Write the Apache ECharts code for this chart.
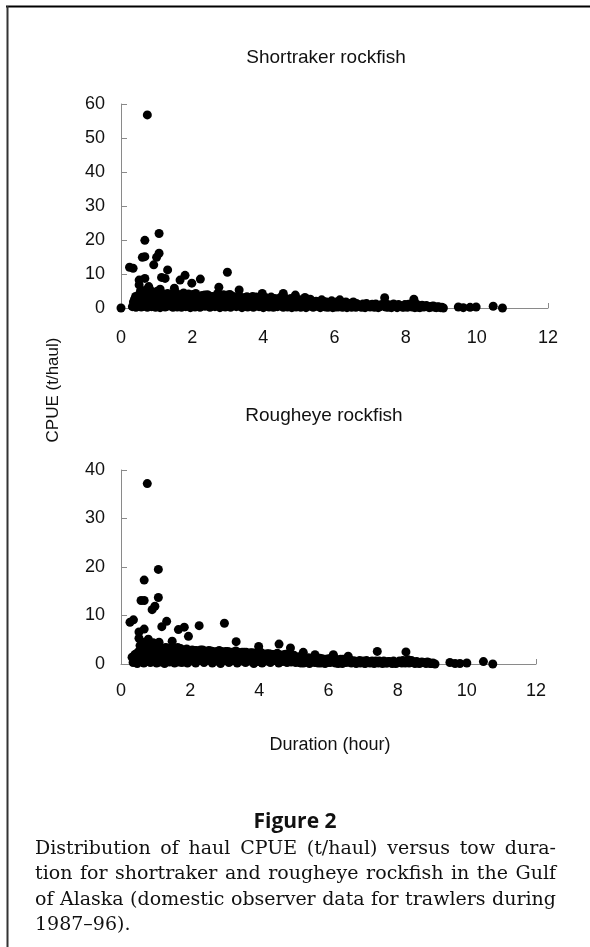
<!DOCTYPE html>
<html>
<head>
<meta charset="utf-8">
<script src="https://cdn.jsdelivr.net/npm/echarts@6/dist/echarts.min.js"></script>
<style>
html,body{margin:0;padding:0;background:#fff;}
#chart{width:590px;height:947px;}
</style>
</head>
<body>
<div id="chart"></div>
<script>
// ---- data (duration in hours, CPUE in t/haul) ----
var xTicks = [0, 2, 4, 6, 8, 10, 12];
var shortrakerTitle = "Shortraker rockfish";
var rougheyeTitle = "Rougheye rockfish";
var yAxisTitle = "CPUE (t/haul)";
var xAxisTitle = "Duration (hour)";
var figureLabel = "Figure 2";
var captionLines = [
  "Distribution of haul CPUE (t/haul) versus tow dura-",
  "tion for shortraker and rougheye rockfish in the Gulf",
  "of Alaska (domestic observer data for trawlers during",
  "1987\u201396)."
];

var shortrakerOutliers = [
  [0,0],[0.74,56.8],[1.07,21.9],[0.67,19.9],[1.07,16.1],[1.0,14.9],[0.6,14.9],[0.67,15.1],
  [0.24,12.0],[0.34,11.7],[0.92,12.7],[1.31,11.2],[1.14,9.0],[1.24,8.7],[0.51,8.2],[0.67,8.7],
  [1.8,9.6],[1.66,8.2],[2.23,8.5],[2.99,10.5],[1.99,7.3],[2.75,6.1],[0.51,6.8],[0.78,6.3],
  [3.32,5.3],[3.97,4.3],[4.56,4.3],[4.9,3.8],[1.5,5.8],[1.1,5.5],[5.17,3.1],[6.15,2.4],
  [6.53,1.8],[7.41,3.0],[8.23,2.6],[5.64,2.4],[9.06,0],[9.48,0.3],[9.62,0.1],[9.81,0.2],
  [9.98,0.3],[10.46,0.5],[10.72,0]
];
var shortrakerBulk = [
  [0.32,0.4],[0.35,1.8],[0.38,2.6],[0.42,0.2],[0.45,1.2],[0.47,2.9],[0.5,0.5],
  [0.52,2.0],[0.55,3.6],[0.55,5.1],[0.57,0.3],[0.6,1.4],[0.62,2.7],[0.63,4.4],[0.66,0.8],
  [0.68,3.3],[0.7,5.3],[0.72,1.9],[0.74,0.2],[0.76,4.1],[0.78,2.6],[0.8,1.1],[0.82,3.5],
  [0.85,5.0],[0.86,0.4],[0.88,2.2],[0.9,4.0],[0.92,1.3],[0.95,3.0],[0.97,0.2],[0.98,4.6],[1.0,2.1],
  [1.03,0.8],[1.05,3.6],[1.08,1.6],[1.1,0.1],[1.12,2.9],[1.15,4.2],[1.18,1.0],[1.2,2.4],
  [1.24,0.3],[1.26,3.7],[1.3,1.7],[1.33,0.6],[1.36,2.8],[1.4,4.0],[1.42,1.2],[1.46,0.2],
  [1.48,2.5],[1.52,3.6],[1.55,1.0],[1.58,0.3],[1.6,2.2],[1.63,3.9],[1.66,1.4],[1.7,0.2],
  [1.72,2.9],[1.76,4.4],[1.78,1.0],[1.82,0.4],[1.85,2.3],[1.88,3.4],[1.92,1.5],[1.95,0.1],[1.98,2.8],
  [2.02,4.0],[2.05,1.2],[2.08,0.3],[2.12,2.6],[2.15,3.5],[2.18,1.0],[2.22,0.2],[2.25,2.2],
  [2.28,3.7],[2.32,1.4],[2.36,0.5],[2.4,2.9],[2.43,3.9],[2.46,1.1],[2.5,0.2],[2.53,2.4],
  [2.57,3.4],[2.6,1.3],[2.64,0.4],[2.68,2.7],[2.71,4.2],[2.75,1.0],[2.78,0.1],[2.82,2.3],
  [2.86,3.3],[2.9,1.5],[2.93,0.3],[2.97,2.8],[3.0,3.8],[3.04,1.1],[3.08,0.2],[3.12,2.5],
  [3.16,3.4],[3.2,1.3],[3.24,0.4],[3.28,2.6],[3.32,3.6],[3.36,1.0],[3.4,0.1],[3.44,2.2],[3.48,3.1],
  [3.52,1.2],[3.56,0.3],[3.6,2.4],[3.64,3.0],[3.68,1.0],[3.72,0.2],[3.76,2.1],[3.8,3.2],
  [3.84,1.3],[3.88,0.4],[3.92,2.5],[3.96,1.0],[4.0,0.1],[4.04,2.2],[4.08,3.0],[4.12,1.1],
  [4.16,0.3],[4.2,2.4],[4.24,1.4],[4.28,0.2],[4.32,2.8],[4.36,1.0],[4.4,0.4],[4.44,2.2],
  [4.48,3.1],[4.52,1.2],[4.56,0.2],[4.6,2.0],[4.64,1.0],[4.68,0.3],[4.72,2.6],[4.76,1.3],
  [4.8,0.1],[4.84,2.1],[4.88,1.0],[4.92,0.3],[4.96,2.4],
  [5.0,1.2],[5.05,0.2],[5.1,1.9],[5.15,0.8],[5.2,0.1],[5.25,1.7],[5.3,0.6],[5.35,2.0],
  [5.4,0.2],[5.45,1.3],[5.5,0.5],[5.55,1.8],[5.6,0.1],[5.65,1.0],[5.7,1.9],[5.75,0.3],
  [5.8,1.2],[5.85,0.6],[5.9,1.6],[5.95,0.1],[6.0,1.0],[6.05,1.8],[6.1,0.3],[6.2,1.1],
  [6.25,0.4],[6.3,1.4],[6.35,0.1],[6.4,1.0],[6.45,0.5],[6.5,1.5],
  [6.6,0.2],[6.65,1.0],[6.72,0.4],[6.8,1.2],[6.86,0.1],[6.92,0.8],[7.0,0.3],[7.06,1.1],
  [7.12,0.2],[7.2,0.8],[7.26,0.4],[7.32,1.0],[7.5,0.2],[7.56,0.9],[7.62,0.4],[7.7,0.8],
  [7.76,0.1],[7.84,0.7],[7.9,0.3],[7.98,1.0],[8.05,0.2],
  [8.12,0.8],[8.18,0.3],[8.3,1.2],[8.36,0.2],[8.42,0.6],[8.5,0.3],[8.58,0.7],[8.66,0.1],
  [8.74,0.5],[8.82,0.2],[8.9,0.4],[8.98,0.1]
];
var shortrakerBulk2 = [
  [0.41,3.4],[0.44,2.1],[0.49,3.8],[0.53,1.0],[0.58,2.4],[0.61,3.9],[0.64,1.9],[0.69,0.5],
  [0.71,2.9],[0.75,3.7],[0.79,0.6],[0.81,4.6],[0.84,1.8],[0.87,3.2],[0.91,0.6],[0.94,4.4],
  [0.96,1.7],[0.99,3.5],
  [1.02,4.9],[1.07,2.6],[1.11,4.6],[1.14,1.9],[1.17,3.2],[1.22,1.6],[1.28,2.6],[1.31,4.3],
  [1.35,1.9],[1.38,0.9],[1.44,3.3],[1.5,1.7],[1.54,4.5],[1.57,2.4],[1.62,0.8],[1.68,3.3],
  [1.74,1.7],[1.8,3.0],[1.84,0.9],[1.9,4.1],[1.94,2.2],
  [2.0,0.9],[2.07,2.0],[2.1,4.3],[2.17,2.4],[2.2,1.7],[2.27,0.8],[2.3,2.8],[2.35,3.8],
  [2.38,1.9],[2.45,0.7],[2.48,3.5],[2.55,1.8],[2.62,2.9],[2.66,1.7],[2.73,3.0],[2.8,1.9],
  [2.84,0.7],[2.88,3.9],[2.95,1.6],[3.02,2.5],[3.06,4.0],[3.1,1.8],[3.18,0.8],[3.22,2.1],
  [3.3,1.7],[3.34,0.6],[3.38,2.9],[3.42,1.6],[3.46,0.7],
  [3.5,2.4],[3.54,3.3],[3.58,1.7],[3.62,0.7],[3.66,2.1],[3.7,3.4],[3.74,1.6],[3.78,0.6],
  [3.82,2.6],[3.86,1.9],[3.9,0.8],[3.94,3.2],[3.98,1.7],[4.02,0.6],[4.06,1.8],[4.1,2.5],
  [4.14,0.7],[4.18,1.6],[4.22,3.2],[4.26,0.8],[4.3,1.9],[4.34,0.4],[4.38,2.4],[4.42,1.5],
  [4.46,0.8],[4.5,2.2],[4.54,0.6],[4.58,1.5],[4.62,2.9],[4.66,1.6],[4.7,0.7],[4.74,1.9],
  [4.78,2.8],[4.82,0.6],[4.86,1.6],[4.9,2.6],[4.94,0.8],[4.98,1.7],
  [5.03,2.4],[5.08,0.7],[5.12,1.3],[5.18,2.2],[5.22,0.9],[5.28,1.2],[5.32,2.6],[5.38,1.0],
  [5.42,0.6],[5.48,2.0],[5.52,1.1],[5.58,0.7],[5.62,1.6],[5.68,0.5],[5.72,1.2],[5.78,1.8],
  [5.82,0.2],[5.88,0.9],[5.92,2.1],[5.98,0.6],[6.02,0.3],[6.08,1.3],[6.12,0.8],[6.18,1.7],
  [6.22,0.2],[6.28,0.8],[6.32,1.8],[6.38,0.6],[6.42,1.3],[6.48,0.2],
  [6.55,0.8],[6.62,1.3],[6.7,0.8],[6.76,0.2],[6.83,0.7],[6.9,1.3],[6.96,0.6],[7.03,0.9],
  [7.1,0.5],[7.16,1.2],[7.23,0.1],[7.3,0.5],[7.37,0.8],[7.44,0.3],[7.47,1.1],[7.53,0.6],
  [7.6,0.1],[7.66,1.2],[7.73,0.5],[7.8,1.0],[7.88,0.5],[7.94,0.2],[8.02,0.7],[8.08,1.1],
  [8.15,0.5],[8.22,0.9],[8.26,0.1],[8.33,0.6],[8.4,0.1],[8.46,0.8],[8.54,0.4],[8.62,0.5],
  [8.7,0.2],[8.78,0.6],[8.86,0.1],[8.94,0.3],[9.02,0.2]
];

var rougheyeOutliers = [
  [0.76,37.2],[1.08,19.5],[0.67,17.3],[1.08,13.7],[0.58,13.1],[0.67,13.1],[0.98,11.9],[0.9,11.2],
  [0.26,8.6],[0.36,9.1],[1.32,8.8],[1.18,7.7],[2.99,8.4],[2.26,7.9],[1.83,7.6],[1.66,7.1],
  [0.67,7.2],[0.52,6.6],[1.95,5.7],[3.33,4.6],[0.79,5.1],[1.48,4.7],[1.1,4.5],[4.57,4.1],
  [3.98,3.6],[4.9,3.3],[0.52,5.3],[6.14,1.7],[7.41,2.6],[8.24,2.5],[6.14,1.9],[6.57,1.6],
  [5.61,1.9],[5.27,2.4],[9.08,0],[9.51,0.3],[9.66,0.1],[9.8,0.1],[10.0,0.2],[10.48,0.5],[10.75,0]
];
var rougheyeBulk = [
  [0.32,1.4],[0.35,0.3],[0.4,1.9],[0.43,0.8],[0.47,0.1],[0.5,1.5],
  [0.53,2.6],[0.55,3.8],[0.57,0.6],[0.6,1.8],[0.62,4.5],[0.64,2.9],[0.66,0.2],[0.69,1.2],
  [0.71,3.4],[0.73,2.2],[0.75,0.5],[0.77,4.0],[0.8,1.6],[0.82,2.8],[0.85,0.3],[0.87,3.6],
  [0.9,1.9],[0.92,0.8],[0.95,2.6],[0.97,4.1],[1.0,1.2],
  [1.03,0.2],[1.05,2.4],[1.08,3.2],[1.1,1.1],[1.13,0.4],[1.16,2.0],[1.2,3.0],[1.23,0.9],
  [1.26,0.1],[1.3,2.2],[1.33,3.3],[1.37,1.3],[1.4,0.4],[1.44,2.5],[1.48,1.0],[1.52,3.1],
  [1.55,0.2],[1.58,1.8],[1.62,2.8],[1.65,0.7],[1.69,1.5],[1.72,3.2],[1.76,0.3],[1.8,2.1],
  [1.84,1.1],[1.88,2.9],[1.92,0.2],[1.96,1.6],
  [2.0,2.6],[2.04,0.6],[2.08,1.7],[2.12,2.8],[2.16,0.2],[2.2,1.3],[2.24,2.4],[2.28,0.7],
  [2.32,1.9],[2.36,2.9],[2.4,0.3],[2.44,1.4],[2.48,2.5],[2.52,0.8],[2.56,1.8],[2.6,2.7],
  [2.64,0.2],[2.68,1.2],[2.72,2.3],[2.76,0.6],[2.8,1.7],[2.84,2.8],[2.88,0.1],[2.92,1.3],
  [2.96,2.2],[3.0,0.7],[3.04,1.6],[3.08,2.6],[3.12,0.3],[3.16,1.2],[3.2,2.1],[3.24,0.8],
  [3.28,1.8],[3.32,2.7],[3.36,0.2],[3.4,1.3],[3.44,2.0],[3.48,0.6],
  [3.52,1.6],[3.56,2.4],[3.6,0.3],[3.64,1.1],[3.68,2.0],[3.72,0.6],[3.76,1.5],[3.8,2.3],
  [3.84,0.1],[3.88,1.2],[3.92,1.9],[3.96,0.5],[4.0,1.4],[4.04,2.4],[4.08,0.2],[4.12,1.0],
  [4.16,1.8],[4.2,0.6],[4.24,1.5],[4.28,2.1],[4.32,0.3],[4.36,1.2],[4.4,1.9],[4.44,0.7],
  [4.48,1.5],[4.52,2.2],[4.56,0.2],[4.6,1.1],[4.64,1.7],[4.68,0.5],[4.72,1.4],[4.76,2.0],
  [4.8,0.3],[4.84,1.0],[4.88,1.6],[4.92,0.4],[4.96,1.2],
  [5.0,1.8],[5.05,0.3],[5.1,1.0],[5.15,1.5],[5.2,0.2],[5.25,0.9],[5.3,1.4],[5.35,0.4],
  [5.4,1.1],[5.45,0.1],[5.5,0.8],[5.55,1.3],[5.6,0.3],[5.65,0.9],[5.7,0.2],[5.75,1.2],
  [5.8,0.5],[5.85,0.9],[5.9,0.1],[5.95,0.7],[6.0,1.1],[6.05,0.3],[6.1,0.8],[6.2,0.2],
  [6.25,0.9],[6.3,0.4],[6.35,1.0],[6.4,0.1],[6.45,0.6],[6.5,0.3],
  [6.6,0.7],[6.66,0.2],[6.72,0.6],[6.8,0.1],[6.86,0.5],[6.92,0.2],[7.0,0.6],[7.06,0.1],
  [7.12,0.5],[7.2,0.2],[7.26,0.6],[7.32,0.1],[7.5,0.4],[7.56,0.1],[7.62,0.5],[7.7,0.2],
  [7.76,0.5],[7.84,0.1],[7.9,0.4],[7.98,0.2],[8.05,0.6],
  [8.12,0.2],[8.18,0.5],[8.3,0.9],[8.36,0.3],[8.42,0.5],[8.5,0.1],[8.58,0.4],[8.66,0.2],
  [8.74,0.3],[8.82,0.1],[8.9,0.3],[8.98,0.1]
];
var rougheyeBulk2 = [
  [0.38,1.0],[0.42,2.0],[0.45,0.5],[0.49,2.4],[0.54,1.2],[0.58,3.1],[0.61,0.9],[0.65,3.9],
  [0.68,2.3],[0.72,1.0],[0.74,4.4],[0.78,2.9],[0.81,0.6],[0.84,3.9],[0.86,1.4],[0.89,2.6],
  [0.93,4.4],[0.96,1.6],[0.99,3.3],
  [1.02,1.7],[1.06,0.7],[1.09,2.7],[1.12,1.6],[1.15,3.4],[1.18,0.6],[1.22,2.4],[1.25,1.6],
  [1.29,3.4],[1.32,0.7],[1.36,2.6],[1.39,1.8],[1.43,0.9],[1.46,3.3],[1.5,1.9],[1.54,0.7],
  [1.57,2.6],[1.61,1.4],[1.64,3.4],[1.68,0.4],[1.71,2.3],[1.74,1.2],[1.78,2.8],[1.82,0.7],
  [1.86,1.8],[1.9,3.1],[1.94,1.0],[1.98,2.3],
  [2.02,1.4],[2.06,2.9],[2.1,0.8],[2.14,1.9],[2.18,2.8],[2.22,0.9],[2.26,1.8],[2.3,2.9],
  [2.34,1.0],[2.38,2.0],[2.42,2.7],[2.46,0.8],[2.5,1.9],[2.54,2.8],[2.58,0.9],[2.62,1.9],
  [2.66,2.6],[2.7,0.7],[2.74,1.8],[2.78,2.6],[2.82,1.0],[2.86,1.9],[2.9,2.6],[2.94,0.7],
  [2.98,1.7],[3.02,2.6],[3.06,0.9],[3.1,1.9],[3.14,2.5],[3.18,0.6],[3.22,1.7],[3.26,2.5],
  [3.3,1.0],[3.34,1.9],[3.38,2.4],[3.42,0.8],[3.46,1.7],
  [3.5,2.4],[3.54,0.8],[3.58,1.7],[3.62,2.4],[3.66,0.7],[3.7,1.5],[3.74,2.3],[3.78,0.8],
  [3.82,1.6],[3.86,2.2],[3.9,0.8],[3.94,1.5],[3.98,2.2],[4.02,0.7],[4.06,1.6],[4.1,2.1],
  [4.14,0.6],[4.18,1.3],[4.22,2.1],[4.26,0.8],[4.3,1.5],[4.34,2.0],[4.38,0.7],[4.42,1.3],
  [4.46,2.0],[4.5,0.7],[4.54,1.5],[4.58,1.9],[4.62,0.7],[4.66,1.2],[4.7,1.9],[4.74,0.8],
  [4.78,1.3],[4.82,1.9],[4.86,0.6],[4.9,1.2],[4.94,1.8],[4.98,0.7],
  [5.03,1.2],[5.08,0.8],[5.12,0.4],[5.18,1.1],[5.22,0.6],[5.28,0.2],[5.32,1.0],[5.38,0.7],
  [5.42,1.3],[5.48,0.5],[5.52,1.0],[5.58,0.7],[5.62,1.2],[5.68,0.6],[5.72,0.9],[5.78,0.2],
  [5.82,1.1],[5.88,0.6],[5.92,1.0],[5.98,0.3],[6.02,0.7],[6.08,1.2],[6.12,0.5],[6.18,0.9],
  [6.22,0.5],[6.28,0.1],[6.32,0.7],[6.38,0.4],[6.42,1.0],[6.48,0.6],
  [6.55,0.4],[6.62,0.9],[6.7,0.3],[6.76,0.6],[6.83,0.3],[6.9,0.7],[6.96,0.4],[7.03,0.2],
  [7.1,0.7],[7.16,0.3],[7.23,0.5],[7.3,0.3],[7.37,0.6],[7.44,0.2],[7.47,0.6],[7.53,0.3],
  [7.6,0.6],[7.66,0.2],[7.73,0.5],[7.8,0.3],[7.88,0.6],[7.94,0.1],[8.02,0.4],[8.08,0.3],
  [8.15,0.7],[8.22,0.2],[8.26,0.6],[8.33,0.2],[8.4,0.7],[8.46,0.3],[8.54,0.5],[8.62,0.1],
  [8.7,0.4],[8.78,0.3],[8.86,0.4],[8.94,0.1],[9.02,0.2]
];

// ---- chart ----
var chart = echarts.init(document.getElementById('chart'), null, {renderer: 'canvas'});
var SANS = '"Liberation Sans", Arial, sans-serif';
var axisGrey = '#8a8a8a';

function xAxisCfg(gi, margin) {
  return {
    type: 'value', gridIndex: gi, min: 0, max: 12, interval: 2,
    axisLine: {show: true, lineStyle: {color: axisGrey, width: 1}},
    axisTick: {show: true, inside: true, length: 5, lineStyle: {color: axisGrey}},
    splitLine: {show: false},
    axisLabel: {fontFamily: SANS, fontSize: 18, color: '#111', margin: margin,
      formatter: function (v) { return xTicks.indexOf(v) >= 0 ? String(v) : ''; }}
  };
}
function yAxisCfg(gi, max) {
  return {
    type: 'value', gridIndex: gi, min: 0, max: max, interval: 10,
    axisLine: {show: true, lineStyle: {color: axisGrey, width: 1}},
    axisTick: {show: true, inside: true, length: 6, lineStyle: {color: axisGrey}},
    splitLine: {show: false},
    axisLabel: {fontFamily: SANS, fontSize: 18, color: '#111', margin: 16}
  };
}
function scatter(gi, data) {
  return {
    type: 'scatter', xAxisIndex: gi, yAxisIndex: gi, data: data,
    symbol: 'circle', symbolSize: 9, clip: false, silent: true,
    itemStyle: {color: '#000', opacity: 1}, emphasis: {disabled: true}
  };
}

// justified caption lines
var graphics = [];
(function () {
  var font = '19px "DejaVu Serif"';
  var ctx = document.createElement('canvas').getContext('2d');
  ctx.font = font;
  var left = 35, right = 556, y0 = 849, lh = 25.3;
  captionLines.forEach(function (line, i) {
    var y = y0 + i * lh;
    if (i === captionLines.length - 1) {
      graphics.push({type: 'text', x: left, y: y, style: {text: line, font: font, fill: '#111', textAlign: 'left', textVerticalAlign: 'middle', verticalAlign: 'middle'}});
      return;
    }
    var words = line.split(' ');
    var widths = words.map(function (w) { return ctx.measureText(w).width; });
    var total = widths.reduce(function (a, b) { return a + b; }, 0);
    var gap = (right - left - total) / (words.length - 1);
    var x = left;
    words.forEach(function (w, j) {
      graphics.push({type: 'text', x: x, y: y, style: {text: w, font: font, fill: '#111', textAlign: 'left', textVerticalAlign: 'middle', verticalAlign: 'middle'}});
      x += widths[j] + gap;
    });
  });
})();

graphics.push(
  {type: 'line', shape: {x1: 6, y1: 6.5, x2: 590, y2: 6.5}, style: {stroke: '#000', lineWidth: 2}},
  {type: 'line', shape: {x1: 7.5, y1: 6, x2: 7.5, y2: 947}, style: {stroke: '#333', lineWidth: 2}},
  {type: 'text', x: 326, y: 58, style: {text: shortrakerTitle, font: '19px ' + SANS, fill: '#111', textAlign: 'center', textVerticalAlign: 'middle', verticalAlign: 'middle'}},
  {type: 'text', x: 324, y: 416, style: {text: rougheyeTitle, font: '19px ' + SANS, fill: '#111', textAlign: 'center', textVerticalAlign: 'middle', verticalAlign: 'middle'}},
  {type: 'text', x: 330, y: 745, style: {text: xAxisTitle, font: '18px ' + SANS, fill: '#111', textAlign: 'center', textVerticalAlign: 'middle', verticalAlign: 'middle'}},
  {type: 'text', x: 53, y: 390, rotation: Math.PI / 2, style: {text: yAxisTitle, font: '17px ' + SANS, fill: '#111', textAlign: 'center', textVerticalAlign: 'middle', verticalAlign: 'middle'}},
  {type: 'text', x: 295, y: 822, style: {text: figureLabel, font: 'bold 21px "Open Sans", sans-serif', fill: '#111', textAlign: 'center', textVerticalAlign: 'middle', verticalAlign: 'middle'}}
);

chart.setOption({
  animation: false,
  backgroundColor: '#fff',
  grid: [
    {left: 121, top: 104, width: 427, height: 204},
    {left: 121, top: 470, width: 415, height: 194}
  ],
  xAxis: [xAxisCfg(0, 21), xAxisCfg(1, 18)],
  yAxis: [yAxisCfg(0, 60), yAxisCfg(1, 40)],
  series: [
    scatter(0, shortrakerBulk), scatter(0, shortrakerBulk2), scatter(0, shortrakerOutliers),
    scatter(1, rougheyeBulk), scatter(1, rougheyeBulk2), scatter(1, rougheyeOutliers)
  ],
  graphic: graphics
});
</script>
</body>
</html>
